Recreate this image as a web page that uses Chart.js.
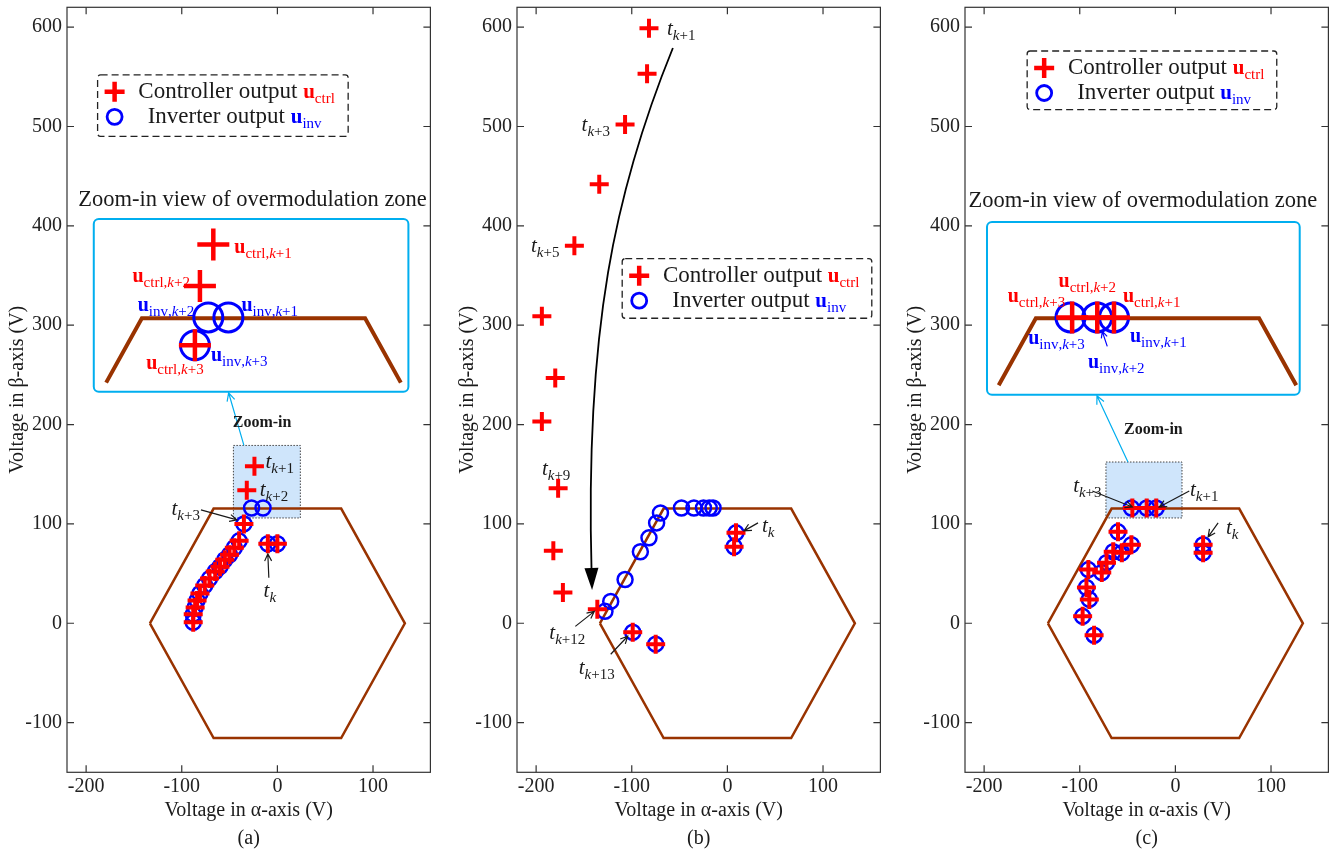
<!DOCTYPE html>
<html>
<head>
<meta charset="utf-8">
<script src="https://cdn.jsdelivr.net/npm/chart.js@4.4.0/dist/chart.umd.min.js"></script>
<style>
  html, body { margin: 0; padding: 0; background: #fff; overflow: hidden; }
  canvas { position: absolute; top: 0; }
</style>
</head>
<body>
<canvas id="pa" width="445" height="854" style="left:0px"></canvas>
<canvas id="pb" width="445" height="854" style="left:450px"></canvas>
<canvas id="pc" width="445" height="854" style="left:898px"></canvas>
<script>
// axis ticks
const xTicks = [-200, -100, 0, 100];
const yTicks = [-100, 0, 100, 200, 300, 400, 500, 600];

// voltage hexagon (closed)
const hexX = [-133.3, -66.7, 66.7, 133.3, 66.7, -66.7, -133.3];
const hexY = [0, 115.5, 115.5, 0, -115.5, -115.5, 0];

// (a) index 0,1 = t_k, 2 = k+1, 3 = k+2, 4 = k+3, then the rest
const ctrlA = [[-10, 80], [0, 80], [-24, 158], [-32, 134], [-35, 100], [-40, 83], [-45, 76], [-50, 69],
  [-55, 64], [-60, 57], [-65, 52], [-71, 45], [-76, 38], [-81, 30], [-84, 23], [-86, 16], [-88, 9], [-88, 1]];
const invA = [[-10, 80], [0, 80], [-15, 116], [-27, 116], [-35, 100], [-40, 83], [-45, 76], [-50, 69],
  [-55, 64], [-60, 57], [-65, 52], [-71, 45], [-76, 38], [-81, 30], [-84, 23], [-86, 16], [-88, 9], [-88, 1]];

// (b) index 0,1 = t_k, 2 = k+1 ... 15 = k+14
const ctrlB = [[9, 91], [7, 77], [-82, 599], [-84, 553], [-107, 502], [-134, 442], [-160, 380], [-194, 309],
  [-180, 247], [-194, 203], [-177, 136], [-182, 73], [-172, 31], [-136, 14], [-99, -9], [-75, -21]];
const invB = [[9, 91], [7, 77], [-15, 116], [-19, 116], [-25, 116], [-35, 116], [-48, 116], [-70, 111],
  [-74, 101], [-82, 86], [-91, 72], [-107, 44], [-122, 22], [-128, 12], [-99, -9], [-75, -21]];

// (c) index 0,1 = t_k, 2 = k+1, 3 = k+2, 4 = k+3, then the rest
const ctrlC = [[29, 79], [29, 71], [-20, 116], [-30, 116], [-45, 116], [-60, 92], [-46, 79], [-65, 72],
  [-56, 71], [-72, 61], [-77, 51], [-91, 54], [-93, 36], [-90, 24], [-97, 7], [-85, -12]];
const invC = [[29, 79], [29, 71], [-20, 116], [-30, 116], [-46, 116], [-60, 92], [-46, 79], [-65, 72],
  [-56, 71], [-72, 61], [-77, 51], [-91, 54], [-93, 36], [-90, 24], [-97, 7], [-85, -12]];

const RED = '#ff0000', BLUE = '#0000ff', BROWN = '#993300', CYAN = '#00aeef', INK = '#1a1a1a';
const SERIF = '"Liberation Serif", "DejaVu Serif", serif';
const MAG = 1.75;
const f = (sz, st) => (st ? st + ' ' : '') + sz + 'px ' + SERIF;

function rich(ctx, x, y, segs, align) {
  ctx.save();
  ctx.textBaseline = 'alphabetic';
  ctx.textAlign = 'left';
  let w = 0;
  for (const s of segs) { ctx.font = s.font; w += ctx.measureText(s.t).width; }
  let cx = align === 'center' ? x - w / 2 : align === 'right' ? x - w : x;
  const base = y + 6;
  for (const s of segs) {
    ctx.font = s.font;
    ctx.fillStyle = s.c;
    ctx.fillText(s.t, cx, base + (s.dy || 0));
    cx += ctx.measureText(s.t).width;
  }
  ctx.restore();
}

function tText(sub) {
  const segs = [{ t: 't', font: f(21, 'italic'), c: INK }, { t: 'k', font: f(15, 'italic'), c: INK, dy: 5 }];
  if (sub) segs.push({ t: sub, font: f(15), c: INK, dy: 5 });
  return segs;
}

function uText(kind, sub, c, sz) {
  const segs = [{ t: 'u', font: f(sz, 'bold'), c }, { t: kind, font: f(15), c, dy: 5 }];
  if (sub) {
    segs.push({ t: ',', font: f(15), c, dy: 5 }, { t: 'k', font: f(15, 'italic'), c, dy: 5 }, { t: sub, font: f(15), c, dy: 5 });
  }
  return segs;
}

function cross(ctx, x, y, r, lw) {
  ctx.save();
  ctx.strokeStyle = RED; ctx.lineWidth = lw;
  ctx.beginPath();
  ctx.moveTo(x - r, y); ctx.lineTo(x + r, y);
  ctx.moveTo(x, y - r); ctx.lineTo(x, y + r);
  ctx.stroke();
  ctx.restore();
}

function ring(ctx, x, y, r, lw) {
  ctx.save();
  ctx.strokeStyle = BLUE; ctx.lineWidth = lw;
  ctx.beginPath(); ctx.arc(x, y, r, 0, Math.PI * 2); ctx.stroke();
  ctx.restore();
}

function arrow(ctx, x1, y1, x2, y2, col, lw, head) {
  const ang = Math.atan2(y2 - y1, x2 - x1);
  ctx.save();
  ctx.strokeStyle = col; ctx.lineWidth = lw;
  ctx.beginPath();
  ctx.moveTo(x1, y1); ctx.lineTo(x2, y2);
  ctx.moveTo(x2 - head * Math.cos(ang - 0.45), y2 - head * Math.sin(ang - 0.45));
  ctx.lineTo(x2, y2);
  ctx.lineTo(x2 - head * Math.cos(ang + 0.45), y2 - head * Math.sin(ang + 0.45));
  ctx.stroke();
  ctx.restore();
}

function rrect(ctx, x, y, w, h, r) {
  ctx.beginPath();
  if (ctx.roundRect) ctx.roundRect(x, y, w, h, r); else ctx.rect(x, y, w, h);
}

function makeAnnot(cfg) {
  return {
    id: 'annot',
    beforeDatasetsDraw(chart) {
      const ctx = chart.ctx;
      const P = (x, y) => [chart.scales.x.getPixelForValue(x), chart.scales.y.getPixelForValue(y)];
      if (cfg.zoomRect) {
        const [x1, y1] = P(cfg.zoomRect[0], cfg.zoomRect[1]);
        const [x2, y2] = P(cfg.zoomRect[2], cfg.zoomRect[3]);
        ctx.save();
        ctx.fillStyle = '#cfe5fb';
        ctx.fillRect(x1, y1, x2 - x1, y2 - y1);
        ctx.setLineDash([1.5, 1.5]);
        ctx.strokeStyle = '#444'; ctx.lineWidth = 1;
        ctx.strokeRect(x1, y1, x2 - x1, y2 - y1);
        ctx.restore();
      }
    },
    afterDatasetsDraw(chart) {
      const ctx = chart.ctx;
      const a = chart.chartArea;
      const sx = chart.scales.x, sy = chart.scales.y;
      const P = (x, y) => [sx.getPixelForValue(x), sy.getPixelForValue(y)];

      // frame with inward ticks on all sides
      ctx.save();
      ctx.strokeStyle = '#333'; ctx.lineWidth = 1.2;
      ctx.strokeRect(a.left, a.top, a.right - a.left, a.bottom - a.top);
      ctx.beginPath();
      xTicks.forEach(v => {
        const x = sx.getPixelForValue(v);
        ctx.moveTo(x, a.bottom); ctx.lineTo(x, a.bottom - 7);
        ctx.moveTo(x, a.top); ctx.lineTo(x, a.top + 7);
      });
      yTicks.forEach(v => {
        const y = sy.getPixelForValue(v);
        ctx.moveTo(a.left, y); ctx.lineTo(a.left + 7, y);
        ctx.moveTo(a.right, y); ctx.lineTo(a.right - 7, y);
      });
      ctx.stroke();
      ctx.restore();

      // zoom link
      if (cfg.link) {
        const [x1, y1] = P(cfg.link[0], cfg.link[1]);
        const [x2, y2] = P(cfg.link[2], cfg.link[3]);
        arrow(ctx, x1, y1, x2, y2, CYAN, 1.2, 9);
        const [zx, zy] = P(cfg.zoomText[0], cfg.zoomText[1]);
        rich(ctx, zx, zy, [{ t: 'Zoom-in', font: f(16, 'bold'), c: INK }], 'center');
      }

      // zoom-in inset
      const ins = cfg.inset;
      if (ins) {
        const [tx, ty] = P(ins.title[0], ins.title[1]);
        rich(ctx, tx, ty, [{ t: 'Zoom-in view of overmodulation zone', font: f(22.5), c: INK }], 'center');
        const [bx1, by1] = P(ins.box[0], ins.box[1]);
        const [bx2, by2] = P(ins.box[2], ins.box[3]);
        ctx.save();
        ctx.strokeStyle = CYAN; ctx.lineWidth = 2;
        rrect(ctx, bx1, by1, bx2 - bx1, by2 - by1, 5);
        ctx.stroke();
        ctx.restore();

        const [rx, ry] = P(0, hexY[1]);
        const [ax, ay] = P(ins.anchor[0], ins.anchor[1]);
        const Q = (x, y) => { const [px, py] = P(x, y); return [ax + MAG * (px - rx), ay + MAG * (py - ry)]; };
        const t = ins.yMin / hexY[1];
        const xl = hexX[0] + (hexX[1] - hexX[0]) * t;
        const xr = hexX[3] + (hexX[2] - hexX[3]) * t;
        const trap = [[xl, ins.yMin], [hexX[1], hexY[1]], [hexX[2], hexY[2]], [xr, ins.yMin]].map(p => Q(p[0], p[1]));
        ctx.save();
        ctx.strokeStyle = BROWN; ctx.lineWidth = 4; ctx.lineJoin = 'miter';
        ctx.beginPath();
        trap.forEach((p, i) => i ? ctx.lineTo(p[0], p[1]) : ctx.moveTo(p[0], p[1]));
        ctx.stroke();
        ctx.restore();
        ins.idx.forEach(i => { const [x, y] = Q(cfg.inv[i][0], cfg.inv[i][1]); ring(ctx, x, y, 14.5, 3); });
        ins.idx.forEach(i => { const [x, y] = Q(cfg.ctrl[i][0], cfg.ctrl[i][1]); cross(ctx, x, y, 16, 4.5); });
        ins.labels.forEach(l => {
          const src = l.s === 'ctrl' ? cfg.ctrl : cfg.inv;
          const col = l.s === 'ctrl' ? RED : BLUE;
          const [x, y] = Q(src[l.i][0], src[l.i][1]);
          rich(ctx, x + l.dx, y + l.dy, uText(l.s, l.sub, col, 20), l.al);
          if (l.arr) arrow(ctx, x + l.arr[0], y + l.arr[1], x + l.arr[2], y + l.arr[3], col, 1.2, 7);
        });
      }

      // time labels on the main plot
      cfg.tLabels.forEach(l => {
        const [x, y] = P(cfg.ctrl[l.i][0], cfg.ctrl[l.i][1]);
        rich(ctx, x + l.dx, y + l.dy, tText(l.sub), l.al);
        if (l.arr) arrow(ctx, x + l.arr[0], y + l.arr[1], x + l.arr[2], y + l.arr[3], INK, 1.2, 8);
      });

      // trajectory arrow in (b)
      if (cfg.curve) {
        const c = cfg.curve.map(p => P(p[0], p[1]));
        ctx.save();
        ctx.strokeStyle = '#000'; ctx.lineWidth = 1.8;
        const ang = Math.atan2(c[3][1] - c[2][1], c[3][0] - c[2][0]);
        const hl = 22;
        const ex = c[3][0] - hl * 0.8 * Math.cos(ang), ey = c[3][1] - hl * 0.8 * Math.sin(ang);
        ctx.beginPath();
        ctx.moveTo(c[0][0], c[0][1]);
        ctx.bezierCurveTo(c[1][0], c[1][1], c[2][0], c[2][1], ex, ey);
        ctx.stroke();
        ctx.fillStyle = '#000';
        ctx.beginPath();
        ctx.moveTo(c[3][0], c[3][1]);
        ctx.lineTo(c[3][0] - hl * Math.cos(ang) + 7 * Math.sin(ang), c[3][1] - hl * Math.sin(ang) - 7 * Math.cos(ang));
        ctx.lineTo(c[3][0] - hl * Math.cos(ang) - 7 * Math.sin(ang), c[3][1] - hl * Math.sin(ang) + 7 * Math.cos(ang));
        ctx.closePath();
        ctx.fill();
        ctx.restore();
      }

      // legend
      const [lx1, ly1] = P(cfg.legend[0], cfg.legend[1]);
      const [lx2, ly2] = P(cfg.legend[2], cfg.legend[3]);
      ctx.save();
      ctx.setLineDash([7, 4]);
      ctx.strokeStyle = '#222'; ctx.lineWidth = 1.3;
      rrect(ctx, lx1, ly1, lx2 - lx1, ly2 - ly1, 3);
      ctx.stroke();
      ctx.restore();
      cross(ctx, lx1 + 17, ly1 + 17, 10, 4.5);
      ring(ctx, lx1 + 17, ly1 + 42, 7.5, 2.8);
      rich(ctx, lx1 + 139, ly1 + 17, [{ t: 'Controller output ', font: f(23), c: INK }].concat(uText('ctrl', '', RED, 21)), 'center');
      rich(ctx, lx1 + 137, ly1 + 42, [{ t: 'Inverter output ', font: f(23), c: INK }].concat(uText('inv', '', BLUE, 21)), 'center');

      // panel letter
      rich(ctx, (a.left + a.right) / 2, chart.height - 16, [{ t: cfg.letter, font: f(20), c: INK }], 'center');
    }
  };
}

const panels = [
  {
    id: 'pa', letter: '(a)', ctrl: ctrlA, inv: invA,
    legend: [-188, 552, 74, 490],
    zoomRect: [-46, 179, 24, 106],
    link: [-35, 179, -51, 232],
    zoomText: [-16, 204],
    inset: {
      title: [-26, 426], box: [-192, 407, 137, 233], anchor: [-25, 307], yMin: 78.5, idx: [2, 3, 4],
      labels: [
        { s: 'ctrl', i: 2, sub: '+1', dx: 21, dy: 3, al: 'left' },
        { s: 'ctrl', i: 3, sub: '+2', dx: -10, dy: -10, al: 'right' },
        { s: 'inv', i: 3, sub: '+2', dx: -14, dy: -12, al: 'right' },
        { s: 'inv', i: 2, sub: '+1', dx: 13, dy: -12, al: 'left' },
        { s: 'inv', i: 4, sub: '+3', dx: 16, dy: 10, al: 'left' },
        { s: 'ctrl', i: 4, sub: '+3', dx: -20, dy: 18, al: 'center' }
      ]
    },
    tLabels: [
      { i: 2, sub: '+1', dx: 11, dy: -4, al: 'left' },
      { i: 3, sub: '+2', dx: 13, dy: 0, al: 'left' },
      { i: 4, sub: '+3', dx: -44, dy: -15, al: 'right', arr: [-43, -14, -7, -4] },
      { i: 0, sub: '', dx: 2, dy: 47, al: 'center', arr: [1, 34, 0, 10] }
    ]
  },
  {
    id: 'pb', letter: '(b)', ctrl: ctrlB, inv: invB,
    legend: [-110, 367, 151, 307],
    curve: [[-57, 579], [-117.5, 436], [-149, 295], [-141.5, 33.5]],
    tLabels: [
      { i: 2, sub: '+1', dx: 18, dy: 1, al: 'left' },
      { i: 4, sub: '+3', dx: -15, dy: 0, al: 'right' },
      { i: 6, sub: '+5', dx: -15, dy: 0, al: 'right' },
      { i: 10, sub: '+9', dx: -2, dy: -19, al: 'center' },
      { i: 13, sub: '+12', dx: -30, dy: 24, al: 'center', arr: [-22, 17, -3, 2] },
      { i: 14, sub: '+13', dx: -36, dy: 36, al: 'center', arr: [-22, 22, -5, 4] },
      { i: 0, sub: '', dx: 26, dy: -7, al: 'left', arr: [22, -10, 8, -2] }
    ]
  },
  {
    id: 'pc', letter: '(c)', ctrl: ctrlC, inv: invC,
    legend: [-155, 576, 106, 517],
    zoomRect: [-72.6, 162.3, 6.9, 106],
    link: [-49.6, 162.3, -82, 229],
    zoomText: [-23, 197],
    inset: {
      title: [-34, 425], box: [-197, 404, 130, 230], anchor: [-29.2, 307], yMin: 77, idx: [2, 3, 4],
      labels: [
        { s: 'ctrl', i: 4, sub: '+3', dx: -7, dy: -21, al: 'right' },
        { s: 'ctrl', i: 3, sub: '+2', dx: -10, dy: -36, al: 'center' },
        { s: 'ctrl', i: 2, sub: '+1', dx: 9, dy: -21, al: 'left' },
        { s: 'inv', i: 4, sub: '+3', dx: -14, dy: 21, al: 'center' },
        { s: 'inv', i: 2, sub: '+1', dx: 16, dy: 19, al: 'left' },
        { s: 'inv', i: 3, sub: '+2', dx: 19, dy: 45, al: 'center', arr: [10, 29, 5, 14] }
      ]
    },
    tLabels: [
      { i: 4, sub: '+3', dx: -45, dy: -22, al: 'center', arr: [-40, -17, 0, -1] },
      { i: 2, sub: '+1', dx: 48, dy: -18, al: 'center', arr: [33, -17, 3, -1] },
      { i: 0, sub: '', dx: 29, dy: -17, al: 'center', arr: [15, -22, 5, -8] }
    ]
  }
];

const tickFont = { family: SERIF, size: 20 };
const titleFont = { family: SERIF, size: 20 };

panels.forEach(cfg => {
  new Chart(document.getElementById(cfg.id), {
    type: 'scatter',
    data: {
      datasets: [
        {
          data: cfg.ctrl.map(p => ({ x: p[0], y: p[1] })),
          pointStyle: 'cross', pointRadius: 9.5, pointBorderWidth: 4,
          pointBorderColor: RED, pointBackgroundColor: RED
        },
        {
          data: cfg.inv.map(p => ({ x: p[0], y: p[1] })),
          pointStyle: 'circle', pointRadius: 7.5, pointBorderWidth: 2.5,
          pointBorderColor: BLUE, pointBackgroundColor: 'rgba(0,0,0,0)'
        },
        {
          data: hexX.map((x, i) => ({ x, y: hexY[i] })),
          showLine: true, pointRadius: 0, borderColor: BROWN, borderWidth: 2.5,
          borderJoinStyle: 'miter'
        }
      ]
    },
    options: {
      responsive: false,
      animation: false,
      devicePixelRatio: 1,
      events: [],
      layout: { autoPadding: false, padding: { top: 7.3, right: 14.6, left: 0, bottom: 0 } },
      plugins: { legend: { display: false }, tooltip: { enabled: false } },
      scales: {
        x: {
          type: 'linear', min: -220, max: 160,
          afterBuildTicks: s => { s.ticks = xTicks.map(v => ({ value: v })); },
          afterFit: s => { s.height = 81.7; s.paddingLeft = 0; s.paddingRight = 0; },
          grid: { display: false, drawTicks: false }, border: { display: false },
          ticks: { font: tickFont, color: '#222', padding: 2, callback: v => String(v) },
          title: { display: true, text: 'Voltage in α-axis (V)', font: titleFont, color: INK, padding: { top: 0, bottom: 31 } }
        },
        y: {
          type: 'linear', min: -150, max: 620,
          afterBuildTicks: s => { s.ticks = yTicks.map(v => ({ value: v })); },
          afterFit: s => { s.width = 67; s.paddingTop = 0; s.paddingBottom = 0; },
          grid: { display: false, drawTicks: false }, border: { display: false },
          ticks: { font: tickFont, color: '#222', padding: 5, callback: v => String(v) },
          title: { display: true, text: 'Voltage in β-axis (V)', font: titleFont, color: INK, padding: { top: 6, bottom: 0 } }
        }
      }
    },
    plugins: [makeAnnot(cfg)]
  });
});
</script>
</body>
</html>
